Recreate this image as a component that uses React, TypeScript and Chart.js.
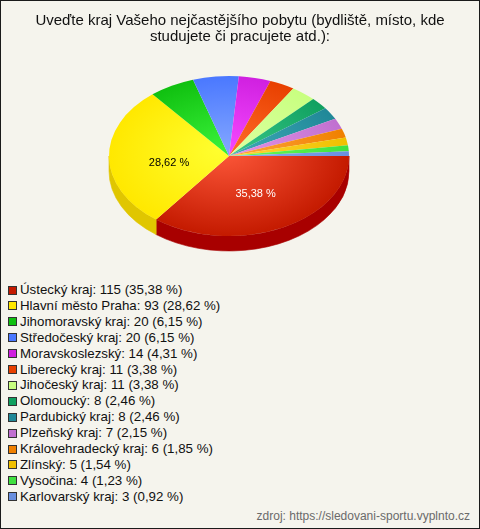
import React, { useEffect, useRef } from "react";
import { Chart, registerables } from "chart.js";

Chart.register(...registerables);

const TITLE_LINES = [
  "Uveďte kraj Vašeho nejčastějšího pobytu (bydliště, místo, kde",
  "studujete či pracujete atd.):",
];
const CATEGORIES = [
  "Ústecký kraj",
  "Hlavní město Praha",
  "Jihomoravský kraj",
  "Středočeský kraj",
  "Moravskoslezský",
  "Liberecký kraj",
  "Jihočeský kraj",
  "Olomoucký",
  "Pardubický kraj",
  "Plzeňský kraj",
  "Královehradecký kraj",
  "Zlínský",
  "Vysočina",
  "Karlovarský kraj",
];
const VALUES = [115, 93, 20, 20, 14, 11, 11, 8, 8, 7, 6, 5, 4, 3];
const PERCENT_LABELS = [
  "35,38 %", "28,62 %", "6,15 %", "6,15 %", "4,31 %", "3,38 %", "3,38 %",
  "2,46 %", "2,46 %", "2,15 %", "1,85 %", "1,54 %", "1,23 %", "0,92 %",
];
const SOURCE = "zdroj: https://sledovani-sportu.vyplnto.cz";

const BASE_COLORS = [
  "#c41a00", "#ffe800", "#10c010", "#4a78ff", "#d020e0", "#e84000", "#c8ff80",
  "#10a060", "#208898", "#c070d0", "#f08000", "#f0c000", "#40e040", "#6a90e0",
];
const LIGHT_COLORS = [
  "#ff5a3c", "#ffff30", "#38f038", "#80a4ff", "#f448ff", "#ff6a28", "#dcffa0",
  "#38c888", "#40aab8", "#e494e8", "#ffa840", "#ffd838", "#70ff58", "#90b0f0",
];
const SIDE_COLORS = [
  "#a80000", "#e0c600", "#0a9a0a", "#3050d0", "#a010b0", "#b83000", "#a0d060",
  "#0a8048", "#186a78", "#9a50a8", "#c06000", "#c09800", "#30b030", "#5070c0",
];

const W = 478;
const H = 270;
const TX = 228; // target ellipse centre (canvas coords)
const TY = 155;
const RX = 120;
const RY = 80;
const DEPTH = 15;

function arcGeom(chart: any) {
  const meta = chart.getDatasetMeta(0);
  const el = meta && meta.data && meta.data[0];
  if (!el) return null;
  return { ex: el.x as number, ey: el.y as number, R: el.outerRadius as number };
}

const pie3d = {
  id: "pie3d",
  beforeDatasetsDraw(chart: any) {
    const ctx = chart.ctx as CanvasRenderingContext2D;
    const g = arcGeom(chart);
    if (!g || !g.R) return;
    const meta = chart.getDatasetMeta(0);
    meta.data.forEach((arc: any, i: number) => {
      let s = arc.startAngle;
      let e = arc.endAngle;
      const twoPi = Math.PI * 2;
      while (s >= twoPi) { s -= twoPi; e -= twoPi; }
      const a0 = Math.max(s, 0);
      const a1 = Math.min(e, Math.PI);
      if (a1 <= a0) return;
      ctx.save();
      ctx.beginPath();
      ctx.ellipse(TX, TY, RX, RY, 0, a0, a1, false);
      ctx.ellipse(TX, TY + DEPTH, RX, RY, 0, a1, a0, true);
      ctx.closePath();
      ctx.fillStyle = SIDE_COLORS[i];
      ctx.fill();
      ctx.strokeStyle = SIDE_COLORS[i];
      ctx.lineWidth = 0.6;
      ctx.stroke();
      ctx.restore();
    });
    ctx.save();
    ctx.translate(TX, TY);
    ctx.scale(RX / g.R, RY / g.R);
    ctx.translate(-g.ex, -g.ey);
  },
  afterDatasetsDraw(chart: any) {
    const ctx = chart.ctx as CanvasRenderingContext2D;
    const g = arcGeom(chart);
    if (!g || !g.R) return;
    ctx.restore();
    const meta = chart.getDatasetMeta(0);
    const total = VALUES.reduce((a, b) => a + b, 0);
    meta.data.forEach((arc: any, i: number) => {
      if (VALUES[i] / total < 0.1) return;
      const mid = (arc.startAngle + arc.endAngle) / 2;
      const x = TX + 0.5 * RX * Math.cos(mid);
      const y = TY + 0.45 * RY * Math.sin(mid) + 6;
      ctx.save();
      ctx.font = '11px "Liberation Sans", Arial, sans-serif';
      ctx.textAlign = "center";
      ctx.textBaseline = "middle";
      ctx.fillStyle = i === 0 ? "#ffffff" : "#000000";
      ctx.fillText(PERCENT_LABELS[i], x, y);
      ctx.restore();
    });
  },
};

export default function App() {
  const ref = useRef<HTMLCanvasElement | null>(null);
  useEffect(() => {
    document.body.style.margin = "0";
    const canvas = ref.current;
    if (!canvas) return;
    const chart = new Chart(canvas, {
      type: "pie",
      data: {
        labels: CATEGORIES,
        datasets: [
          {
            data: VALUES,
            borderWidth: 0,
            backgroundColor: (c: any) => {
              const i = c.dataIndex;
              const chartObj = c.chart;
              const area = chartObj.chartArea;
              if (!area || i === undefined) return BASE_COLORS[i ?? 0];
              const cx = (area.left + area.right) / 2;
              const cy = (area.top + area.bottom) / 2;
              const r = Math.min(area.right - area.left, area.bottom - area.top) / 2;
              const grad = chartObj.ctx.createRadialGradient(cx - r * 0.05, cy - r * 0.1, 0, cx, cy, r);
              grad.addColorStop(0, LIGHT_COLORS[i]);
              grad.addColorStop(1, BASE_COLORS[i]);
              return grad;
            },
          },
        ],
      },
      options: {
        responsive: false,
        animation: false,
        rotation: 90,
        layout: { padding: { top: 50, bottom: 10, left: 100, right: 100 } },
        plugins: {
          legend: { display: false },
          tooltip: { enabled: false },
          title: { display: false },
        },
      },
      plugins: [pie3d],
    });
    return () => chart.destroy();
  }, []);

  return (
    <div
      style={{
        position: "absolute",
        left: 0,
        top: 0,
        width: 480,
        height: 529,
        boxSizing: "border-box",
        border: "1px solid #1a1a1a",
        background: "#f5f4ed",
        fontFamily: '"Liberation Sans", Arial, sans-serif',
      }}
    >
      <canvas ref={ref} width={W} height={H} style={{ position: "absolute", left: 0, top: 0, width: W, height: H }} />
      <div
        style={{
          position: "absolute",
          left: 0,
          top: 11,
          width: W,
          textAlign: "center",
          fontSize: 15,
          lineHeight: "16px",
          color: "#111",
        }}
      >
        {TITLE_LINES.map((t) => (
          <div key={t} style={{ whiteSpace: "nowrap" }}>{t}</div>
        ))}
      </div>
      {CATEGORIES.map((name, i) => (
        <div
          key={name}
          style={{
            position: "absolute",
            left: 7,
            top: 281 + i * 15.9,
            height: 16,
            lineHeight: "16px",
            fontSize: 13.3,
            color: "#111",
            whiteSpace: "nowrap",
            display: "flex",
            alignItems: "center",
          }}
        >
          <span
            style={{
              display: "inline-block",
              width: 7,
              height: 7,
              border: "1px solid #333",
              background: BASE_COLORS[i],
              marginRight: 3,
            }}
          />
          <span>{`${name}: ${VALUES[i]} (${PERCENT_LABELS[i]})`}</span>
        </div>
      ))}
      <div
        style={{
          position: "absolute",
          right: 9,
          top: 507,
          fontSize: 12,
          lineHeight: "16px",
          color: "#6a6a6a",
          whiteSpace: "nowrap",
        }}
      >
        {SOURCE}
      </div>
    </div>
  );
}
